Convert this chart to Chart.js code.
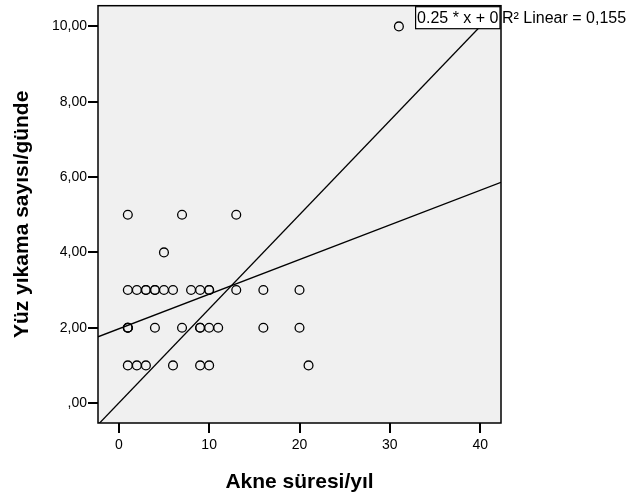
<!DOCTYPE html>
<html>
<head>
<meta charset="utf-8">
<script src="https://cdn.jsdelivr.net/npm/chart.js@4/dist/chart.umd.min.js"></script>
<style>
    html, body { margin: 0; padding: 0; background: #fff; }
    #wrap { width: 632px; height: 499px; }
</style>
</head>
<body>
<div id="wrap"><canvas id="scatterChart"></canvas></div>
<script>
// acne duration (years) and face washes per day
const akneYears = [
    1, 7, 13,
    5,
    1, 2, 3, 3, 4, 4, 5, 6, 8, 9, 10, 10, 13, 16, 20,
    1, 1, 1, 4, 7, 9, 9, 10, 11, 16, 20,
    1, 2, 3, 6, 9, 10, 21,
    31
];
const washCount = [
    5, 5, 5,
    4,
    3, 3, 3, 3, 3, 3, 3, 3, 3, 3, 3, 3, 3, 3, 3,
    2, 2, 2, 2, 2, 2, 2, 2, 2, 2, 2,
    1, 1, 1, 1, 1, 1, 1,
    10
];

const xTicks = [0, 10, 20, 30, 40];
const yTicks = [0, 2, 4, 6, 8, 10];
const yTickLabels = [',00', '2,00', '4,00', '6,00', '8,00', '10,00'];

const xRange = [-2.3, 42.3];
const yRange = [-0.53, 10.55];

// fit line (R2 linear) and reference line
const fitIntercept = 1.97;
const fitSlope = 0.092;
const refIntercept = 0;
const refSlope = 0.25;
const refLabel = '0.25 * x + 0';
const fitLabel = 'R\u00B2 Linear = 0,155';

const FONT = '"Liberation Sans", Arial, sans-serif';

document.addEventListener('DOMContentLoaded', function() {
    const ctx = document.getElementById('scatterChart');

    const points = akneYears.map((x, i) => ({ x: x, y: washCount[i] }));
    const lineOf = (a, b) => xRange.map(x => ({ x: x, y: a + b * x }));

    const plotFrame = {
        id: 'plotFrame',
        beforeDatasetsDraw(chart) {
            const { ctx, chartArea: a } = chart;
            ctx.save();
            ctx.fillStyle = '#f0f0f0';
            ctx.fillRect(a.left, a.top, a.right - a.left, a.bottom - a.top);
            ctx.restore();
        },
        afterDatasetsDraw(chart) {
            const { ctx, chartArea: a } = chart;
            ctx.save();
            ctx.strokeStyle = '#000';
            ctx.lineWidth = 1.5;
            ctx.strokeRect(a.left, a.top, a.right - a.left, a.bottom - a.top);

            // label box of the reference line
            ctx.font = '16px ' + FONT;
            const w = ctx.measureText(refLabel).width + 3;
            const bx = a.right - w - 1, by = a.top + 1, bh = 22;
            ctx.fillStyle = '#fff';
            ctx.fillRect(bx, by, w, bh);
            ctx.lineWidth = 1.2;
            ctx.strokeRect(bx, by, w, bh);
            ctx.fillStyle = '#000';
            ctx.textBaseline = 'middle';
            ctx.textAlign = 'left';
            ctx.fillText(refLabel, bx + 1.5, by + bh / 2 + 1);
            ctx.fillText(fitLabel, a.right + 1, by + bh / 2 + 1);
            ctx.restore();
        }
    };

    new Chart(ctx, {
        type: 'scatter',
        data: {
            datasets: [
                {
                    type: 'line',
                    data: lineOf(fitIntercept, fitSlope),
                    borderColor: '#000',
                    borderWidth: 1.3,
                    pointRadius: 0,
                    clip: 0,
                },
                {
                    type: 'line',
                    data: lineOf(refIntercept, refSlope),
                    borderColor: '#000',
                    borderWidth: 1.3,
                    pointRadius: 0,
                    clip: 0,
                },
                {
                    data: points,
                    pointRadius: 4.4,
                    pointBorderWidth: 1.3,
                    pointBorderColor: '#000',
                    pointBackgroundColor: 'rgba(0,0,0,0)',
                }
            ]
        },
        options: {
            responsive: true,
            maintainAspectRatio: false,
            animation: false,
            events: [],
            layout: { padding: { left: 0, right: 131, top: 4, bottom: 0 } },
            plugins: {
                legend: { display: false },
                tooltip: { enabled: false }
            },
            scales: {
                x: {
                    type: 'linear',
                    min: xRange[0],
                    max: xRange[1],
                    afterBuildTicks: scale => { scale.ticks = xTicks.map(v => ({ value: v })); },
                    afterFit: scale => {
                        scale.height = 76;
                        scale.paddingLeft = 0;
                        scale.paddingRight = 0;
                    },
                    border: { display: false },
                    grid: { drawOnChartArea: false, drawTicks: true, tickLength: 10, color: '#000', lineWidth: 2 },
                    ticks: { color: '#000', padding: 4, font: { family: FONT, size: 14 } },
                    title: {
                        display: true,
                        text: 'Akne süresi/yıl',
                        color: '#000',
                        padding: { top: 0, bottom: 4 },
                        font: { family: FONT, size: 21, weight: 'bold' }
                    }
                },
                y: {
                    min: yRange[0],
                    max: yRange[1],
                    afterBuildTicks: scale => { scale.ticks = yTicks.map(v => ({ value: v })); },
                    afterFit: scale => {
                        scale.width = 98;
                        scale.paddingTop = 0;
                        scale.paddingBottom = 0;
                    },
                    border: { display: false },
                    grid: { drawOnChartArea: false, drawTicks: true, tickLength: 10, color: '#000', lineWidth: 2 },
                    ticks: {
                        color: '#000',
                        padding: 1,
                        font: { family: FONT, size: 14 },
                        callback: (v) => yTickLabels[yTicks.indexOf(v)]
                    },
                    title: {
                        display: true,
                        text: 'Yüz yıkama sayısı/günde',
                        color: '#000',
                        padding: { top: 10, bottom: 0 },
                        font: { family: FONT, size: 21, weight: 'bold' }
                    }
                }
            }
        },
        plugins: [plotFrame]
    });
});
</script>
</body>
</html>
